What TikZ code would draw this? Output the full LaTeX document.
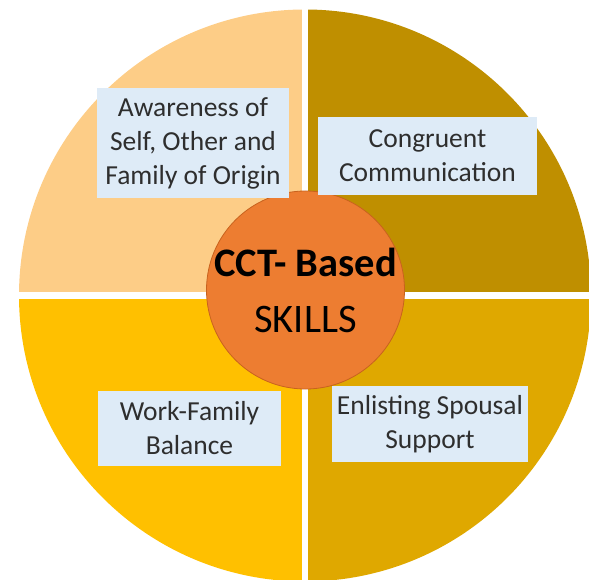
\documentclass[tikz,border=0pt]{standalone}
\usepackage{fontspec}
\setmainfont{Carlito}
\definecolor{qtl}{HTML}{FDCD87}
\definecolor{qtr}{HTML}{BF8F00}
\definecolor{qbl}{HTML}{FFC000}
\definecolor{qbr}{HTML}{DFA800}
\definecolor{hub}{HTML}{ED7D31}
\definecolor{hubline}{HTML}{C8621E}
\definecolor{boxfill}{HTML}{DEEBF7}
\definecolor{txt}{HTML}{2E2E2E}
\begin{document}
\begin{tikzpicture}[x=1pt,y=-1pt,
  label box/.style={fill=boxfill,text=txt,align=center,inner sep=0pt,
    font=\fontsize{27.5}{34}\selectfont},
  hubnode/.style={circle,fill=hub,draw=hubline,line width=0.8pt,minimum size=198pt,inner sep=0pt}]
\useasboundingbox (0,0) rectangle (589,580);
\begin{scope}
\clip (0,0) rectangle (589,580);
\coordinate (c) at (305,295.5);
\fill[qtl] (c) -- ++(-286,0) arc[start angle=180,end angle=270,radius=286] -- cycle;
\fill[qtr] (c) -- ++(0,-286) arc[start angle=270,end angle=360,radius=286] -- cycle;
\fill[qbr] (c) -- ++(286,0) arc[start angle=0,end angle=90,radius=286] -- cycle;
\fill[qbl] (c) -- ++(0,286) arc[start angle=90,end angle=180,radius=286] -- cycle;
\fill[white] (302,0) rectangle (308,580);
\fill[white] (0,292.2) rectangle (589,298.8);
\end{scope}
\node[hubnode] (hub) at (305.5,290) {};
\node[font=\fontsize{40.5}{56}\selectfont,text=black,align=center,inner sep=0pt] (hubtext) at (305.5,290)
  {\textbf{CCT- Based}\\SKILLS};
\node[label box,minimum width=192pt,minimum height=110pt] (aw) at (193,143)
  {Awareness of\\Self, Other and\\Family of Origin};
\node[label box,minimum width=219pt,minimum height=78pt] (cc) at (427.5,156)
  {Congruent\\Communication};
\node[label box,minimum width=183pt,minimum height=75pt] (wf) at (189.5,428.5)
  {Work-Family\\Balance};
\node[label box,minimum width=196pt,minimum height=76pt] (es) at (430,424)
  {Enlisting Spousal\\Support};
\end{tikzpicture}
\end{document}
